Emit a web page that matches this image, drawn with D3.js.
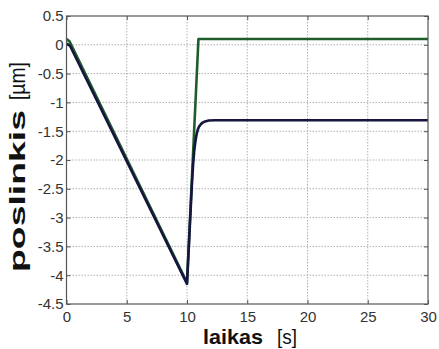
<!DOCTYPE html>
<html><head><meta charset="utf-8">
<script src="https://cdn.jsdelivr.net/npm/d3@7"></script>
<style>body{margin:0;background:#fff}svg{display:block}</style>
</head><body>
<svg id="c" width="439" height="349"></svg>
<script>
const xTicks = [0,5,10,15,20,25,30];
const yTicks = [0.5,0,-0.5,-1,-1.5,-2,-2.5,-3,-3.5,-4,-4.5];
const yTickLabels = ["0.5","0","-0.5","-1","-1.5","-2","-2.5","-3","-3.5","-4","-4.5"];
const greenT = [0,0.25,10,10.95,30];
const greenV = [0.1,0.06,-4.13,0.1,0.1];
const blueT = [0,0.3,10,10.2,10.4,10.5,10.6,10.7,10.8,10.9,11.0,11.15,11.3,11.5,11.8,12.3,30];
const blueV = [0.02,-0.02,-4.15,-3.3,-2.45,-2.1,-1.84,-1.67,-1.55,-1.47,-1.42,-1.38,-1.35,-1.33,-1.315,-1.31,-1.31];

const svg = d3.select("#c");
const L=66.5, R=428, T=16, B=304;
const x = d3.scaleLinear().domain([0,30]).range([L,R]);
const y = d3.scaleLinear().domain([-4.5,0.5]).range([B,T]);
const font = "'Liberation Sans', Arial, sans-serif";

// grid
const g = svg.append("g");
g.selectAll(".gx").data(xTicks.slice(1,-1)).join("line")
  .attr("x1",d=>x(d)).attr("x2",d=>x(d)).attr("y1",T).attr("y2",B)
  .attr("stroke","#b0b0b0").attr("stroke-width",1).attr("stroke-dasharray","1.5,1.5");
g.selectAll(".gy").data(yTicks.slice(1,-1)).join("line")
  .attr("y1",d=>y(d)).attr("y2",d=>y(d)).attr("x1",L).attr("x2",R)
  .attr("stroke","#b0b0b0").attr("stroke-width",1).attr("stroke-dasharray","1.5,1.5");

// axes
const ax = (sel)=>{sel.select(".domain").remove(); sel.selectAll(".tick line").attr("stroke","#555");
  sel.selectAll("text").attr("fill","#333").style("font-family",font).style("font-size","15px");};
svg.append("g").attr("transform",`translate(0,${B})`)
  .call(d3.axisBottom(x).tickValues(xTicks).tickFormat(d3.format("d")).tickSizeInner(-4).tickSizeOuter(0).tickPadding(7)).call(ax);
svg.append("g").attr("transform",`translate(${L},0)`)
  .call(d3.axisLeft(y).tickValues(yTicks).tickFormat((d,i)=>yTickLabels[i]).tickSizeInner(-4).tickSizeOuter(0).tickPadding(3)).call(ax);
svg.append("g").attr("transform",`translate(0,${T})`)
  .call(d3.axisTop(x).tickValues(xTicks).tickFormat("").tickSizeInner(-4).tickSizeOuter(0)).call(ax);
svg.append("g").attr("transform",`translate(${R},0)`)
  .call(d3.axisRight(y).tickValues(yTicks).tickFormat("").tickSizeInner(-4).tickSizeOuter(0)).call(ax);

// lines
const line = d3.line().x(d=>x(d[0])).y(d=>y(d[1]));
svg.append("path").datum(greenT.map((t,i)=>[t,greenV[i]]))
  .attr("d",line).attr("fill","none").attr("stroke","#1f5e2a").attr("stroke-width",2.6).attr("stroke-linejoin","round");
svg.append("path").datum(blueT.map((t,i)=>[t,blueV[i]]))
  .attr("d",line).attr("fill","none").attr("stroke","#15153f").attr("stroke-width",2.6).attr("stroke-linejoin","round");

// frame
svg.append("rect").attr("x",L).attr("y",T).attr("width",R-L).attr("height",B-T)
  .attr("fill","none").attr("stroke","#555").attr("stroke-width",1.2);

// labels
svg.append("text").attr("x",203).attr("y",344).attr("textLength",60).attr("lengthAdjust","spacingAndGlyphs")
  .style("font-family",font).style("font-size","21px").style("font-weight","bold").attr("fill","#111").text("laikas");
svg.append("text").attr("x",277).attr("y",344).attr("textLength",20).attr("lengthAdjust","spacingAndGlyphs")
  .style("font-family",font).style("font-size","21px").attr("fill","#111").text("[s]");
svg.append("text").attr("transform","translate(25,272) rotate(-90)").attr("textLength",162).attr("lengthAdjust","spacingAndGlyphs")
  .style("font-family",font).style("font-size","22px").style("font-weight","bold").attr("fill","#111").text("poslinkis");
svg.append("text").attr("transform","translate(25,100) rotate(-90)").attr("textLength",38).attr("lengthAdjust","spacingAndGlyphs")
  .style("font-family",font).style("font-size","22px").attr("fill","#111").text("[µm]");
</script>
</body></html>
